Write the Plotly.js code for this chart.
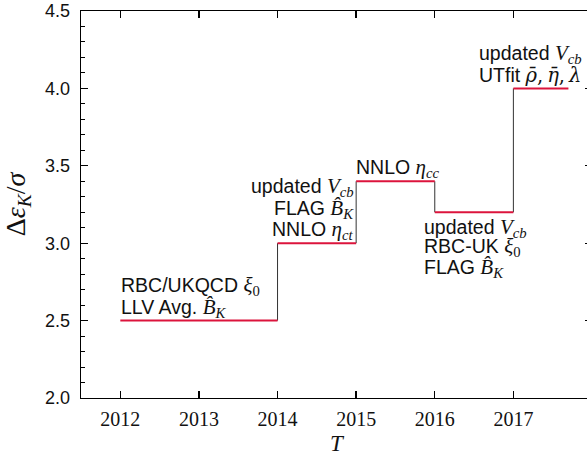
<!DOCTYPE html>
<html>
<head>
<meta charset="utf-8">
<script src="https://cdn.plot.ly/plotly-3.0.1.min.js"></script>
<style>
html, body { margin:0; padding:0; overflow:hidden; background:#fff; }
#chart { width:600px; height:456px; }
</style>
</head>
<body>
<div id="chart"></div>
<script>
// ---- data ----
const startYears = [2012, 2014, 2015, 2016, 2017];
const endYears   = [2014, 2015, 2016, 2017, 2017.7];
const deltaEps   = [2.5, 3.0, 3.4, 3.2, 4.0];
const xTickVals  = [2012, 2013, 2014, 2015, 2016, 2017];

const M = s => '<span style="font-family:Liberation Serif;font-size:21px">' + s + '</span>';
const MD = s => '<span style="font-family:DejaVu Serif">' + s + '</span>';
const Vcb = M('<i>V</i><sub><i>cb</i></sub>');
const BK = M('<i>B\u0302</i><sub><i>K</i></sub>');
const xi0 = M('<i>ξ</i><sub>0</sub>');

// label groups: text lines, attached to a step (index into data)
const labelLines = [
  ['RBC/UKQCD ' + xi0, 'LLV Avg. ' + BK],
  ['updated ' + Vcb, 'FLAG ' + BK, 'NNLO ' + M('<i>η</i><sub><i>ct</i></sub>')],
  ['NNLO ' + M('<i>η</i><sub><i>cc</i></sub>')],
  ['updated ' + Vcb, 'RBC-UK ' + xi0, 'FLAG ' + BK],
  ['updated ' + Vcb, 'UTfit ' + MD('<i>ρ\u0304</i>,\u2009<i>η\u0304</i>,\u2009<i>λ</i>')]
];
const labelX = [2012, 2015, 2015, 2015.86, 2016.52];
const labelY = [2.5, 3.0, 3.4, 3.2, 4.0];

// ---- styling/position config (pixels) ----
const labelXAnchor = ['left', 'right', 'left', 'left', 'left'];
const labelXShift = [0, -1, -1, -1, 2];
const lineOffsets = [[-35, -13], [-56, -34, -13], [-13], [16, 35, 56], [-34, -13]];

// ---- traces ----
const segX = [], segY = [];
startYears.forEach((s, i) => { segX.push(s, endYears[i], null); segY.push(deltaEps[i], deltaEps[i], null); });
const vX = [], vY = [];
for (let i = 1; i < startYears.length; i++) { vX.push(startYears[i], startYears[i], null); vY.push(deltaEps[i-1], deltaEps[i], null); }

const traces = [
  { x: vX, y: vY, mode: 'lines', line: { color: '#333333', width: 1 }, hoverinfo: 'skip', showlegend: false },
  { x: segX, y: segY, mode: 'lines', line: { color: '#dc143c', width: 2 }, showlegend: false }
];

const annotations = [];
labelLines.forEach((lines, g) => {
  lines.forEach((t, k) => {
    annotations.push({
      x: labelX[g], y: labelY[g], xref: 'x', yref: 'y', text: t, showarrow: false,
      xanchor: labelXAnchor[g], yanchor: 'middle', align: labelXAnchor[g],
      xshift: labelXShift[g], yshift: -lineOffsets[g][k],
      font: { family: 'Liberation Sans', size: 19.5, color: '#111' },
      borderpad: 0
    });
  });
});

const layout = {
  width: 600, height: 456,
  margin: { l: 81, r: 8, t: 11, b: 58 },
  paper_bgcolor: '#fff', plot_bgcolor: '#fff',
  showlegend: false,
  xaxis: {
    range: [2011.5, 2018], tickvals: xTickVals, ticktext: xTickVals.map(String),
    ticks: 'inside', ticklen: 7, tickcolor: '#000', tickwidth: 1.3, ticklabelstandoff: 3,
    showline: true, linecolor: '#000', linewidth: 1.3, mirror: 'ticks',
    showgrid: false, zeroline: false,
    tickfont: { family: 'Liberation Serif', size: 20, color: '#111' },
    title: { text: '<i>T</i>', font: { family: 'Liberation Serif', size: 23, color: '#111' }, standoff: 20 }
  },
  yaxis: {
    range: [2.0, 4.5], dtick: 0.5, tickformat: '.1f',
    ticks: 'inside', ticklen: 7, tickcolor: '#000', tickwidth: 1.3, ticklabelstandoff: 6,
    minor: { dtick: 0.1, ticks: 'inside', ticklen: 4, tickcolor: '#000', tickwidth: 1 },
    showline: true, linecolor: '#000', linewidth: 1.3, mirror: 'ticks',
    showgrid: false, zeroline: false,
    tickfont: { family: 'Liberation Sans', size: 18, color: '#111' },
    title: { text: 'Δ<i>ε</i><sub><i>K</i></sub>/<i>σ</i>', font: { family: 'Liberation Serif', size: 28, color: '#111' }, standoff: 19 }
  },
  annotations: annotations
};

Plotly.newPlot('chart', traces, layout, { displayModeBar: false, staticPlot: true });
</script>
</body>
</html>
